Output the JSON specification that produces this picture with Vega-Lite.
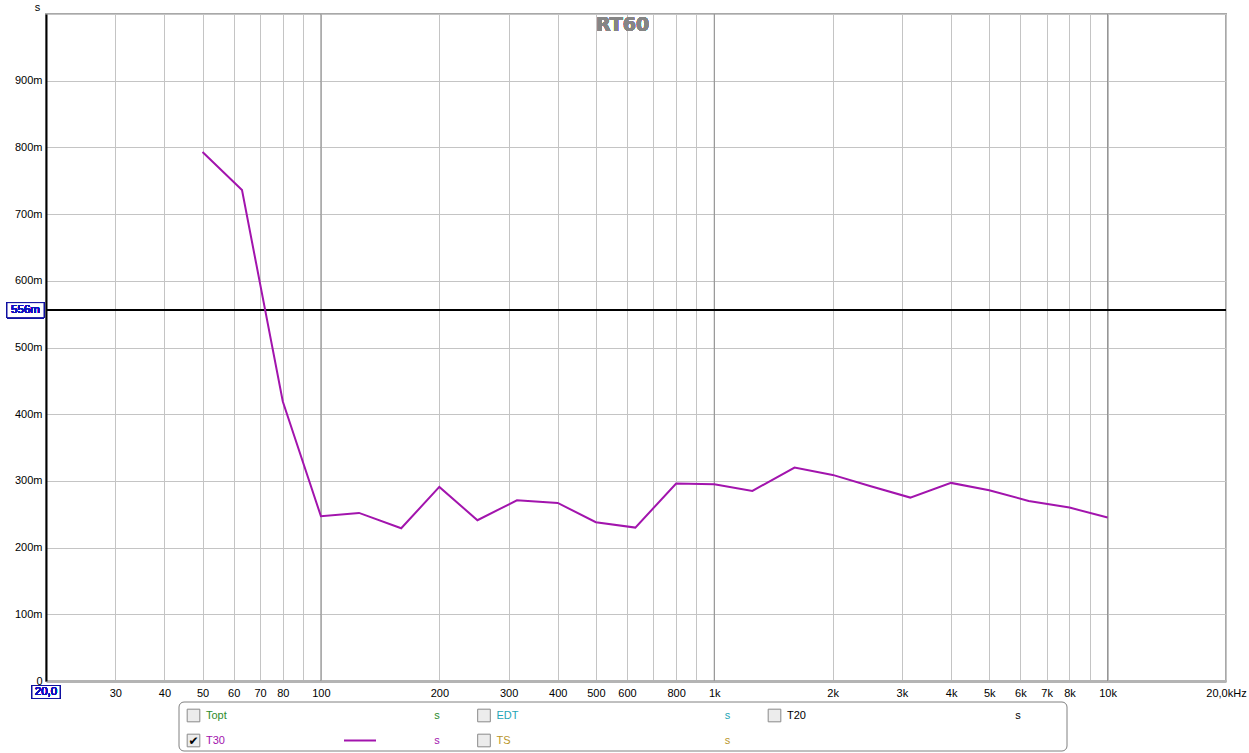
{
  "$schema": "https://vega.github.io/schema/vega-lite/v6.json",
  "background": "white",
  "padding": {"left": 4, "top": 0, "right": 0, "bottom": 0},
  "config": {"font": "Liberation Sans", "view": {"stroke": null}},
  "spacing": 21,
  "center": true,
  "bounds": "flush",
  "vconcat": [
    {
      "width": 1180,
      "height": 667,
      "view": {"stroke": "#a8a8a8", "strokeWidth": 2},
      "data": {"values": [
        {"freq": 50, "rt60": 0.793},
        {"freq": 63, "rt60": 0.736},
        {"freq": 80, "rt60": 0.419},
        {"freq": 100, "rt60": 0.247},
        {"freq": 125, "rt60": 0.252},
        {"freq": 160, "rt60": 0.229},
        {"freq": 200, "rt60": 0.291},
        {"freq": 250, "rt60": 0.241},
        {"freq": 315, "rt60": 0.271},
        {"freq": 400, "rt60": 0.267},
        {"freq": 500, "rt60": 0.238},
        {"freq": 630, "rt60": 0.230},
        {"freq": 800, "rt60": 0.296},
        {"freq": 1000, "rt60": 0.295},
        {"freq": 1250, "rt60": 0.285},
        {"freq": 1600, "rt60": 0.320},
        {"freq": 2000, "rt60": 0.309},
        {"freq": 2500, "rt60": 0.292},
        {"freq": 3150, "rt60": 0.275},
        {"freq": 4000, "rt60": 0.297},
        {"freq": 5000, "rt60": 0.286},
        {"freq": 6300, "rt60": 0.270},
        {"freq": 8000, "rt60": 0.260},
        {"freq": 10000, "rt60": 0.245}
      ]},
      "layer": [
        {
          "data": {"values": [{"f": 100}, {"f": 1000}, {"f": 10000}]},
          "mark": {"type": "rule", "color": "#8c8c8c", "strokeWidth": 1},
          "encoding": {
            "x": {"field": "f", "type": "quantitative", "scale": {"type": "log", "domain": [20, 20000], "nice": false}}
          }
        },
        {
          "mark": {"type": "rule", "color": "black", "strokeWidth": 1},
          "encoding": {"y": {"datum": 0.556, "type": "quantitative"}}
        },
        {
          "mark": {"type": "line", "color": "#a214ad", "strokeWidth": 2},
          "encoding": {
            "x": {
              "field": "freq", "type": "quantitative",
              "scale": {"type": "log", "domain": [20, 20000], "nice": false},
              "axis": {
                "values": [20, 30, 40, 50, 60, 70, 80, 90, 100, 200, 300, 400, 500, 600, 700, 800, 900, 1000, 2000, 3000, 4000, 5000, 6000, 7000, 8000, 9000, 10000, 20000],
                "labelExpr": "datum.value == 20 ? '' : datum.value == 20000 ? '20,0kHz' : indexof([90, 700, 900, 9000], datum.value) >= 0 ? '' : datum.value >= 1000 ? (datum.value / 1000) + 'k' : '' + datum.value",
                "grid": true, "gridColor": "#c4c4c4", "gridWidth": 1,
                "domainColor": "#b4b4b4", "domainWidth": 3,
                "ticks": false, "labelPadding": 6, "labelFlush": false, "labelOverlap": false, "labelBound": false,
                "labelFontSize": 11, "labelColor": "black", "title": null,
                "encode": {"labels": {"update": {"dx": {"signal": "datum.value == 20000 ? -7 : 0"}}}}
              }
            },
            "y": {
              "field": "rt60", "type": "quantitative",
              "scale": {"domain": [0, 1], "nice": false},
              "axis": {
                "values": [0, 0.1, 0.2, 0.3, 0.4, 0.5, 0.6, 0.7, 0.8, 0.9, 1.0],
                "labelExpr": "datum.value >= 0.999 ? '' : datum.value < 0.001 ? '0' : format(datum.value * 1000, 'd') + 'm'",
                "grid": true, "gridColor": "#c4c4c4", "gridWidth": 1,
                "domainColor": "black", "domainWidth": 2,
                "ticks": false, "labelPadding": 4, "labelFontSize": 11, "labelColor": "black",
                "title": "s", "titleAngle": 0, "titleX": -9, "titleY": -7, "titleAlign": "center", "titleBaseline": "middle",
                "titleFontWeight": "normal", "titleFontSize": 11, "titleColor": "black"
              }
            }
          }
        },
        {
          "mark": {"type": "point", "shape": "M-1,-0.405H1V0.405H-1Z", "size": 1369, "filled": true, "fill": "white", "stroke": "#1010a0", "strokeWidth": 1, "opacity": 1, "xOffset": -20.5},
          "encoding": {"x": {"datum": 20, "type": "quantitative"}, "y": {"datum": 0.556, "type": "quantitative"}}
        },
        {
          "mark": {"type": "text", "text": "556m", "color": "#1010c0", "fontSize": 11.5, "align": "center", "baseline": "middle", "xOffset": -20.5},
          "encoding": {"x": {"datum": 20, "type": "quantitative"}, "y": {"datum": 0.556, "type": "quantitative"}}
        },
        {
          "mark": {"type": "point", "shape": "M-1,-0.464H1V0.464H-1Z", "size": 784, "filled": true, "fill": "white", "stroke": "#1010a0", "strokeWidth": 1, "opacity": 1, "yOffset": 11},
          "encoding": {"x": {"datum": 20, "type": "quantitative"}, "y": {"datum": 0, "type": "quantitative"}}
        },
        {
          "mark": {"type": "text", "text": "20,0", "color": "#1010c0", "fontSize": 11.5, "align": "center", "baseline": "middle", "yOffset": 11},
          "encoding": {"x": {"datum": 20, "type": "quantitative"}, "y": {"datum": 0, "type": "quantitative"}}
        },
        {
          "mark": {"type": "text", "text": "RT60", "font": "DejaVu Sans", "fontWeight": "bold", "fontSize": 19, "color": "#858585", "align": "center", "baseline": "middle"},
          "encoding": {"x": {"datum": 585, "type": "quantitative"}, "y": {"datum": 0.983, "type": "quantitative"}}
        }
      ]
    },
    {
      "width": 914,
      "height": 49,
      "view": {"stroke": null, "fill": null},
      "data": {"values": [
        {"name": "Topt", "col": 0, "row": 0, "color": "#2c8c2c", "checked": false, "unit": "s"},
        {"name": "EDT", "col": 1, "row": 0, "color": "#1fa5b5", "checked": false, "unit": "s"},
        {"name": "T20", "col": 2, "row": 0, "color": "#000000", "checked": false, "unit": "s"},
        {"name": "T30", "col": 0, "row": 1, "color": "#a214ad", "checked": true, "unit": "s"},
        {"name": "TS", "col": 1, "row": 1, "color": "#b8952a", "checked": false, "unit": "s"}
      ]},
      "layer": [
        {
          "data": {"values": [{"start": 0, "end": 3.0568}]},
          "mark": {"type": "rect", "fill": "white", "stroke": "#808080", "strokeWidth": 1, "cornerRadius": 5},
          "encoding": {
            "x": {"field": "start", "type": "quantitative", "scale": {"domain": [0, 2], "range": [0, 581], "nice": false, "zero": false}, "axis": null},
            "x2": {"field": "end"}
          }
        },
        {
          "mark": {"type": "point", "shape": "square", "size": 160, "filled": true, "fill": "#ececec", "stroke": "#8a8a8a", "strokeWidth": 1, "opacity": 1, "xOffset": 14.5},
          "encoding": {
            "x": {"field": "col", "type": "quantitative", "axis": null},
            "y": {"field": "row", "type": "ordinal", "scale": {"type": "point", "domain": [0, 1], "range": [13.5, 38.5], "padding": 0}, "axis": null}
          }
        },
        {
          "transform": [{"filter": "datum.checked"}],
          "mark": {"type": "text", "text": "✔", "font": "DejaVu Sans", "fontSize": 12, "color": "black", "align": "center", "baseline": "middle", "xOffset": 14.5},
          "encoding": {
            "x": {"field": "col", "type": "quantitative", "axis": null},
            "y": {"field": "row", "type": "ordinal", "axis": null}
          }
        },
        {
          "mark": {"type": "text", "align": "left", "baseline": "middle", "fontSize": 11, "xOffset": 27},
          "encoding": {
            "x": {"field": "col", "type": "quantitative", "axis": null},
            "y": {"field": "row", "type": "ordinal", "axis": null},
            "text": {"field": "name"},
            "color": {"field": "color", "type": "nominal", "scale": null}
          }
        },
        {
          "mark": {"type": "text", "align": "center", "baseline": "middle", "fontSize": 11, "xOffset": 258},
          "encoding": {
            "x": {"field": "col", "type": "quantitative", "axis": null},
            "y": {"field": "row", "type": "ordinal", "axis": null},
            "text": {"field": "unit"},
            "color": {"field": "color", "type": "nominal", "scale": null}
          }
        },
        {
          "transform": [{"filter": "datum.name == 'T30'"}],
          "mark": {"type": "point", "shape": "M-1,0H1", "size": 1024, "filled": false, "strokeWidth": 2, "opacity": 1, "xOffset": 181},
          "encoding": {
            "x": {"field": "col", "type": "quantitative", "axis": null},
            "y": {"field": "row", "type": "ordinal", "axis": null},
            "color": {"field": "color", "type": "nominal", "scale": null}
          }
        }
      ]
    }
  ]
}
